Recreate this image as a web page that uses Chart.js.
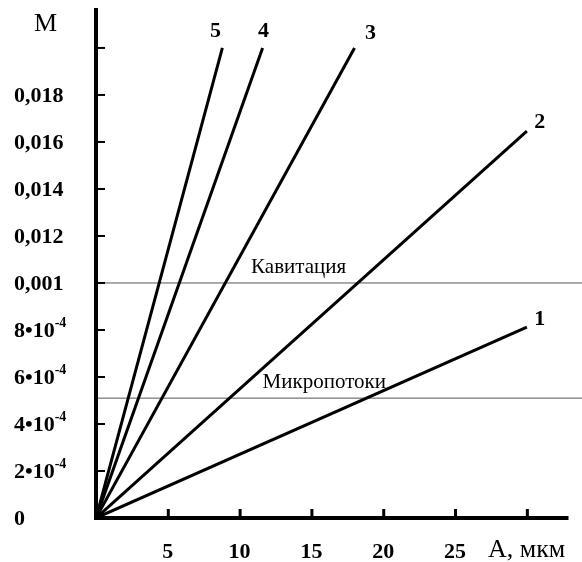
<!DOCTYPE html>
<html>
<head>
<meta charset="utf-8">
<script src="https://cdn.jsdelivr.net/npm/chart.js@4/dist/chart.umd.min.js"></script>
<style>
  html, body { margin: 0; padding: 0; background: #fff; }
  #wrap { width: 582px; height: 562px; }
</style>
</head>
<body>
<div id="wrap"><canvas id="chart" width="582" height="562"></canvas></div>
<script>
// Curves: straight lines from the origin, end points
const seriesNames = ['1', '2', '3', '4', '5'];
const endA = [30.0, 30.0, 18.0, 11.6, 8.8];       // A, мкм
const endM = [4.06, 8.23, 10.0, 10.0, 10.0];      // M, in axis-step units

// Y axis is not uniform: evenly spaced steps with these labels
const yTickLabels = ['0', '2•10^-4', '4•10^-4', '6•10^-4', '8•10^-4', '0,001',
                     '0,012', '0,014', '0,016', '0,018', ''];
const xTicks = [5, 10, 15, 20, 25, 30];
const xTickLabels = ['5', '10', '15', '20', '25', ''];

// Threshold levels
const levelNames = ['Кавитация', 'Микропотоки'];
const levelValues = [5.0, 2.55];
const levelLabelA = [10.8, 11.6];

const SERIF = '"Liberation Serif", "Times New Roman", serif';
const X_AXIS_END = 32.9;
const Y_AXIS_END = 10.85;

// label offsets next to curve ends (px)
const nameOffsets = [[13, -8], [13, -9], [16, -15], [1, -17], [-7, -17]];

const datasets = seriesNames.map((name, i) => ({
    label: name,
    data: [{ x: 0, y: 0 }, { x: endA[i], y: endM[i] }],
    borderColor: '#000',
    borderWidth: 3,
    borderCapStyle: 'butt',
    pointRadius: 0,
    fill: false
}));

levelNames.forEach((name, i) => {
    datasets.push({
        label: name,
        data: [{ x: 0, y: levelValues[i] }, { x: 34, y: levelValues[i] }],
        borderColor: '#555',
        borderWidth: 1,
        pointRadius: 0,
        fill: false
    });
});

const axesPlugin = {
    id: 'axesPlugin',
    afterDraw(chart) {
        const ctx = chart.ctx;
        const xs = chart.scales.x;
        const ys = chart.scales.y;
        const x0 = xs.getPixelForValue(0);
        const y0 = ys.getPixelForValue(0);
        ctx.save();
        ctx.fillStyle = '#000';
        ctx.strokeStyle = '#000';

        // axis lines
        ctx.fillRect(x0 - 2, ys.getPixelForValue(Y_AXIS_END), 4, y0 - ys.getPixelForValue(Y_AXIS_END) + 2);
        ctx.fillRect(x0 - 2, y0 - 2, xs.getPixelForValue(X_AXIS_END) - x0 + 2, 4);

        // y ticks and labels
        yTickLabels.forEach((lab, i) => {
            const py = ys.getPixelForValue(i);
            if (i > 0) ctx.fillRect(x0 + 2, py - 1, 7, 2);
            if (!lab) return;
            const parts = lab.split('^');
            ctx.textAlign = 'left';
            ctx.textBaseline = 'middle';
            ctx.font = 'bold 22px ' + SERIF;
            ctx.fillText(parts[0], 14, py + 1);
            if (parts[1]) {
                const w = ctx.measureText(parts[0]).width;
                ctx.font = 'bold 14px ' + SERIF;
                ctx.fillText(parts[1], 14 + w, py - 7);
            }
        });

        // x ticks and labels
        xTicks.forEach((v, i) => {
            const px = xs.getPixelForValue(v);
            ctx.fillRect(px - 1, y0 - 9, 3, 8);
            if (!xTickLabels[i]) return;
            ctx.textAlign = 'center';
            ctx.textBaseline = 'middle';
            ctx.font = 'bold 22px ' + SERIF;
            ctx.fillText(xTickLabels[i], px, 552);
        });

        // axis titles
        ctx.font = '26px ' + SERIF;
        ctx.textAlign = 'left';
        ctx.textBaseline = 'middle';
        ctx.fillText('M', 34, 24);
        ctx.font = '26px ' + SERIF;
        ctx.fillText('A, мкм', 488, 550);

        // level names
        ctx.font = '21px ' + SERIF;
        ctx.textBaseline = 'alphabetic';
        levelNames.forEach((name, i) => {
            ctx.fillText(name, xs.getPixelForValue(levelLabelA[i]), ys.getPixelForValue(levelValues[i]) - 10);
        });

        // curve numbers
        ctx.font = 'bold 22px ' + SERIF;
        ctx.textAlign = 'center';
        ctx.textBaseline = 'middle';
        seriesNames.forEach((name, i) => {
            const px = xs.getPixelForValue(endA[i]);
            const py = ys.getPixelForValue(endM[i]);
            ctx.fillText(name, px + nameOffsets[i][0], py + nameOffsets[i][1]);
        });
        ctx.restore();
    }
};

new Chart(document.getElementById('chart'), {
    type: 'line',
    data: { datasets: datasets },
    options: {
        responsive: false,
        animation: false,
        layout: { padding: { left: 96, right: 0, top: 8, bottom: 44 } },
        plugins: {
            legend: { display: false },
            tooltip: { enabled: false }
        },
        scales: {
            x: {
                type: 'linear',
                display: false,
                min: 0,
                max: 33.84
            },
            y: {
                type: 'linear',
                display: false,
                min: 0,
                max: Y_AXIS_END
            }
        }
    },
    plugins: [axesPlugin]
});
</script>
</body>
</html>
